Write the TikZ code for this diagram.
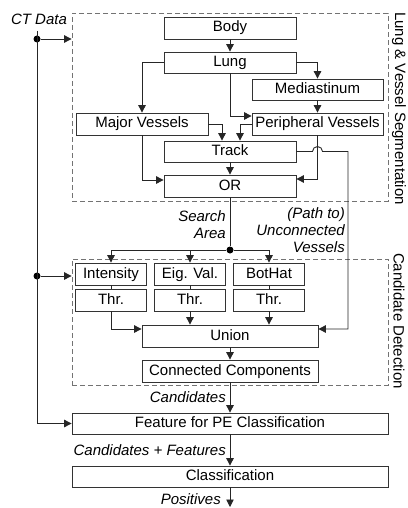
\documentclass[tikz,border=0pt]{standalone}
\usepackage{fontspec}
\setmainfont{Liberation Sans}
\usetikzlibrary{arrows.meta,calc}
\begin{document}
\begin{tikzpicture}[x=1pt,y=1pt,
  box/.style={draw=black!80, line width=0.8pt, inner sep=0pt, minimum height=22pt,
    text height=11pt, text depth=3pt, font=\fontsize{15}{17}\selectfont},
  grp/.style={draw=black!55, dash pattern=on 5pt off 3pt, line width=0.8pt, inner sep=0pt},
  arr/.style={draw=black!85, line width=0.9pt, -{Triangle[length=7.5pt,width=7.5pt]}},
  con/.style={draw=black!85, line width=0.9pt},
  lbl/.style={font=\fontsize{15}{17}\selectfont\itshape, inner sep=0pt, align=right},
  side/.style={font=\fontsize{15}{17}\selectfont, inner sep=0pt, rotate=-90},
  dot/.style={circle, fill=black, inner sep=0pt, minimum size=7pt}]

\useasboundingbox (0,0) rectangle (407,-508);

% groups
\node[grp, minimum width=316pt, minimum height=188pt] (seg) at (230,-107) {};
\node[grp, minimum width=316pt, minimum height=126pt] (cand) at (230,-322) {};

% boxes
\node[box, minimum width=132pt] (body) at (230,-28) {Body};
\node[box, minimum width=132pt, minimum height=21pt] (lung) at (230,-62.5) {Lung};
\node[box, minimum width=131pt, minimum height=21pt] (med) at (317.5,-89.5) {Mediastinum};
\node[box, minimum width=131pt] (peri) at (317.5,-124) {Peripheral Vessels};
\node[box, minimum width=132pt] (major) at (142,-124) {Major Vessels};
\node[box, minimum width=132pt, minimum height=21pt] (track) at (230,-151.5) {Track};
\node[box, minimum width=132pt] (or) at (230,-186) {OR};

\node[box, minimum width=71pt] (int) at (111,-274) {Intensity};
\node[box, minimum width=71pt] (intthr) at (111,-300) {Thr.};
\node[box, minimum width=71pt] (eig) at (190,-274) {Eig. Val.};
\node[box, minimum width=71pt] (eigthr) at (190,-300) {Thr.};
\node[box, minimum width=71pt] (bot) at (269,-274) {BotHat};
\node[box, minimum width=71pt] (botthr) at (269,-300) {Thr.};
\node[box, minimum width=176pt] (union) at (230,-336) {Union};
\node[box, minimum width=176pt] (cc) at (230,-371) {Connected Components};

\node[box, minimum width=316pt, minimum height=21pt] (feat) at (230,-423.5) {Feature for PE Classification};
\node[box, minimum width=316pt, minimum height=21pt] (cls) at (230,-476.5) {Classification};

% side labels
\node[side, anchor=west] (segl) at (399,-12) {Lung \& Vessel Segmentation};
\node[side] (candl) at (399,-321) {Candidate Detection};

% segmentation connectors
\draw[arr] (body.south) -- (lung.north);
\draw[arr] (lung.east) -| (med.north);
\draw[arr] (med.south) -- (peri.north);
\draw[arr] (lung.south) |- ([yshift=8pt]peri.west);
\draw[arr] (lung.west) -| (major.north);
\draw[arr] (major.east) -| ([xshift=-8pt]track.north);
\draw[arr] (peri.west) -| ([xshift=10pt]track.north);
\draw[arr] (major.south) |- ([yshift=6pt]or.west);
\draw[arr] (peri.south) |- ([yshift=7pt]or.east);
\draw[arr] (track.south) -- (or.north);

% unconnected vessels path with a jump
\coordinate (uv) at (348,-151.5);
\draw[arr] (track.east) -- ([xshift=-5pt]peri.south |- track.east)
  arc[start angle=180, end angle=0, radius=5pt] -- (uv) |- ([yshift=7pt]union.east);

% search area
\node[dot] (sa) at (230,-250) {};
\draw[con] (or.south) -- (sa);
\draw[arr] (sa) -| (int.north);
\draw[arr] (sa) -| (bot.north);
\draw[arr] (eig.north |- sa) -- (eig.north);

% candidate detection connectors
\draw[con] (int.south) -- (intthr.north);
\draw[con] (eig.south) -- (eigthr.north);
\draw[con] (bot.south) -- (botthr.north);
\draw[arr] (intthr.south) |- ([yshift=7pt]union.west);
\draw[arr] (eigthr.south) -- (eigthr.south |- union.north);
\draw[arr] (botthr.south) -- (botthr.south |- union.north);
\draw[arr] (union.south) -- (cc.north);
\draw[arr] (cc.south) -- (feat.north);
\draw[arr] (feat.south) -- (cls.north);
\coordinate (out) at (230,-507);
\draw[arr] (cls.south) -- (out);

% CT data input
\coordinate (ctin) at (37,-31);
\node[dot] (ct1) at (37,-39) {};
\node[dot] (ct2) at (37,-276) {};
\draw[arr] (ctin) |- (feat.west);
\draw[arr] (ct1) -- (ct1 -| seg.west);
\draw[arr] (ct2) -- (ct2 -| cand.west);

% labels
\node[lbl] (ctl) at (39,-19) {CT Data};
\node[lbl, anchor=east] (sal) at (226,-225) {Search\\Area};
\node[lbl, anchor=east] (pl) at (345,-230) {(Path to)\\Unconnected\\Vessels};
\node[lbl, anchor=east] (candlbl) at (226,-397) {Candidates};
\node[lbl, anchor=east] (cflbl) at (226,-450) {Candidates + Features};
\node[lbl, anchor=east] (poslbl) at (221,-499.5) {Positives};
\end{tikzpicture}
\end{document}
